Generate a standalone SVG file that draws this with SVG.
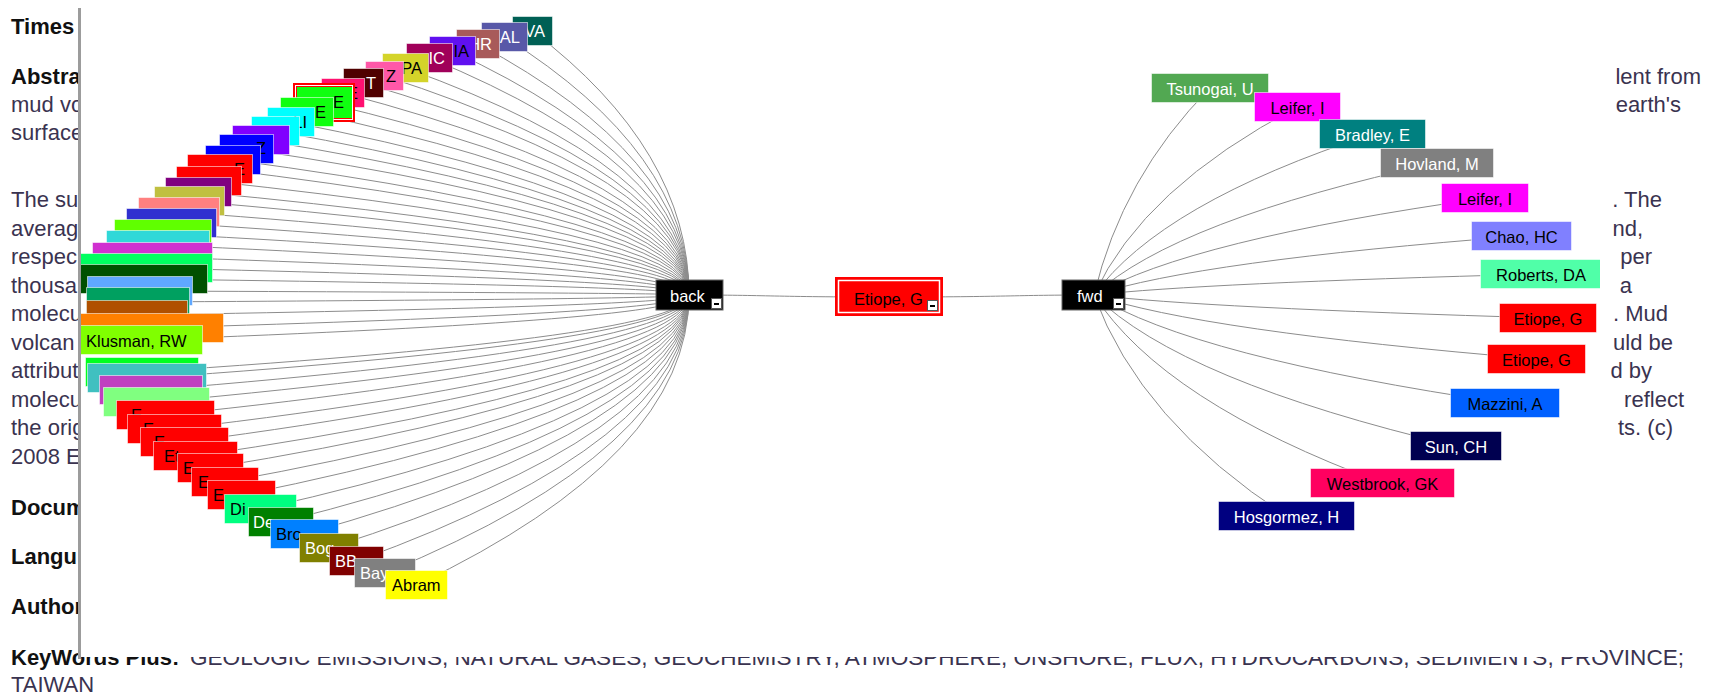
<svg xmlns="http://www.w3.org/2000/svg" width="1715" height="695" viewBox="0 0 1715 695">
<style>
.pg{font-family:"Liberation Sans",Arial,sans-serif;font-size:22px;fill:#3a3350}
.pb{font-weight:bold;fill:#111}
.lb{font-family:"Liberation Sans",Arial,sans-serif;font-size:16.5px}
.w{fill:#fff}.k{fill:#000}
.bx{stroke:#fff;stroke-opacity:.55;stroke-width:1}
.cn{fill:none;stroke:#8c8c8c;stroke-width:1}
.ic{fill:#fff;stroke:#555;stroke-width:1}
</style>
<defs>
<clipPath id="panel"><rect x="81" y="8" width="1519" height="649"/></clipPath>
</defs>
<rect width="1715" height="695" fill="#fff"/>
<g id="page">
<text class="pg pb" x="11" y="34">Times</text>
<text class="pg pb" x="11" y="84">Abstra</text>
<text class="pg" x="11" y="112">mud vo</text>
<text class="pg" x="11" y="140">surface</text>
<text class="pg" x="11" y="207">The su</text>
<text class="pg" x="11" y="236">averag</text>
<text class="pg" x="11" y="264">respec</text>
<text class="pg" x="11" y="293">thousa</text>
<text class="pg" x="11" y="321">molecu</text>
<text class="pg" x="11" y="350">volcan</text>
<text class="pg" x="11" y="378">attribut</text>
<text class="pg" x="11" y="407">molecu</text>
<text class="pg" x="11" y="435">the orig</text>
<text class="pg" x="11" y="464">2008 E</text>
<text class="pg pb" x="11" y="515">Docum</text>
<text class="pg pb" x="11" y="564">Langu</text>
<text class="pg pb" x="11" y="614">Author</text>
<text class="pg pb" x="11" y="665">KeyWords Plus:</text>
<text class="pg" x="190" y="665" textLength="1494" lengthAdjust="spacingAndGlyphs">GEOLOGIC EMISSIONS, NATURAL GASES, GEOCHEMISTRY, ATMOSPHERE, ONSHORE, FLUX, HYDROCARBONS, SEDIMENTS, PROVINCE;</text>
<text class="pg" x="11" y="692">TAIWAN</text>
<g text-anchor="end">
<text class="pg" x="1701" y="84">lent from</text>
<text class="pg" x="1681" y="112">earth's</text>
<text class="pg" x="1662" y="207">. The</text>
<text class="pg" x="1643" y="236">nd,</text>
<text class="pg" x="1652" y="264">per</text>
<text class="pg" x="1632" y="293">a</text>
<text class="pg" x="1668" y="321">. Mud</text>
<text class="pg" x="1673" y="350">uld be</text>
<text class="pg" x="1652" y="378">d by</text>
<text class="pg" x="1684" y="407">reflect</text>
<text class="pg" x="1673" y="435">ts. (c)</text>
</g>
</g>
<rect x="81" y="8" width="1519" height="649" fill="#fff"/>
<rect x="78" y="8" width="3" height="651" fill="#9c9c9c"/>
<g clip-path="url(#panel)">
<g id="connectors" class="cn">
<path d="M689,295Q689,150 532.5,31"/>
<path d="M689,295Q689,153 504.5,37"/>
<path d="M689,295Q689,157 478,44"/>
<path d="M689,295Q689,161 452.5,51"/>
<path d="M689,295Q689,165 429.5,58"/>
<path d="M689,295Q689,170 405.5,68"/>
<path d="M689,295Q689,174 384.5,76"/>
<path d="M689,295Q689,178 363.5,83"/>
<path d="M689,295Q689,184 343,93"/>
<path d="M689,295Q689,189 324,102.5"/>
<path d="M689,295Q689,194 307,112"/>
<path d="M689,295Q689,200 291,122"/>
<path d="M689,295Q689,205 275.5,131"/>
<path d="M689,295Q689,210 261,140"/>
<path d="M689,295Q689,215 246.5,149"/>
<path d="M689,295Q689,221 233,160"/>
<path d="M689,295Q689,226 220,169"/>
<path d="M689,295Q689,232 209,181"/>
<path d="M689,295Q689,238 198.5,192"/>
<path d="M689,295Q689,243 189.5,201"/>
<path d="M689,295Q689,249 179,212"/>
<path d="M689,295Q689,255 171.5,223"/>
<path d="M689,295Q689,261 163,234"/>
<path d="M689,295Q689,268 158,245"/>
<path d="M689,295Q689,274 152.5,257"/>
<path d="M689,295Q689,280 144.5,268"/>
<path d="M689,295Q689,286 142,279"/>
<path d="M689,295Q689,293 140,291"/>
<path d="M689,295Q689,299 138,302"/>
<path d="M689,295Q689,306 137,315"/>
<path d="M689,295Q689,313 150,328"/>
<path d="M689,295Q689,320 139.5,340"/>
<path d="M689,295Q689,337 142,372"/>
<path d="M689,295Q689,341 147,378"/>
<path d="M689,295Q689,347 151,390"/>
<path d="M689,295Q689,354 156.5,402"/>
<path d="M689,295Q689,361 165.5,415"/>
<path d="M689,295Q689,369 174.5,429"/>
<path d="M689,295Q689,376 184.5,442"/>
<path d="M689,295Q689,384 195.5,456"/>
<path d="M689,295Q689,390 210.5,468"/>
<path d="M689,295Q689,398 225,482"/>
<path d="M689,295Q689,405 241.5,495"/>
<path d="M689,295Q689,413 260.5,509"/>
<path d="M689,295Q689,420 281,522"/>
<path d="M689,295Q689,426 304.5,534"/>
<path d="M689,295Q689,434 329,548"/>
<path d="M689,295Q689,441 356.5,561"/>
<path d="M689,295Q689,448 385,573"/>
<path d="M689,295Q689,455 416.5,585"/>
<path d="M689,295C770,295 770,297 889,297"/>
<path d="M889,297C1010,297 1010,295 1094,295"/>
<path d="M1094,295Q1122,177 1210,88"/>
<path d="M1094,295Q1143,188 1297.5,107"/>
<path d="M1094,295Q1161,203 1372.5,134"/>
<path d="M1094,295Q1176,220 1437,163"/>
<path d="M1094,295Q1188,240 1485,198"/>
<path d="M1094,295Q1197,261 1521.5,236"/>
<path d="M1094,295Q1201,283 1541,274"/>
<path d="M1094,295Q1203,308 1548,318"/>
<path d="M1094,295Q1200,331 1536.5,359"/>
<path d="M1094,295Q1193,357 1505,403"/>
<path d="M1094,295Q1181,381 1456,446"/>
<path d="M1094,295Q1163,402 1382.5,483"/>
<path d="M1094,295Q1140,421 1286.5,516"/>
</g>
<g id="nodes" class="lb">
<g id="L01"><svg x="512" y="16" width="41" height="30"><rect class="bx" x=".5" y=".5" width="40" height="29" fill="#006055"/><text class="w" x="33" y="21" text-anchor="end">VA</text></svg></g>
<g id="L02"><svg x="481" y="22" width="47" height="30"><rect class="bx" x=".5" y=".5" width="46" height="29" fill="#5858a8"/><text class="w" x="39" y="21" text-anchor="end">AL</text></svg></g>
<g id="L03"><svg x="456" y="29" width="44" height="30"><rect class="bx" x=".5" y=".5" width="43" height="29" fill="#a85a5a"/><text class="w" x="36" y="21" text-anchor="end">HR</text></svg></g>
<g id="L04"><svg x="429" y="36" width="47" height="30"><rect class="bx" x=".5" y=".5" width="46" height="29" fill="#6010f0"/><text class="k" x="40" y="21" text-anchor="end">IA</text></svg></g>
<g id="L05"><svg x="406" y="43" width="47" height="30"><rect class="bx" x=".5" y=".5" width="46" height="29" fill="#a0005a"/><text class="w" x="39" y="21" text-anchor="end">IC</text></svg></g>
<g id="L06"><svg x="382" y="53" width="47" height="30"><rect class="bx" x=".5" y=".5" width="46" height="29" fill="#d4d42a"/><text class="k" x="40" y="21" text-anchor="end">PA</text></svg></g>
<g id="L07"><svg x="365" y="61" width="39" height="30"><rect class="bx" x=".5" y=".5" width="38" height="29" fill="#ff58a8"/><text class="k" x="31" y="21" text-anchor="end">Z</text></svg></g>
<g id="L08"><svg x="343" y="68" width="41" height="30"><rect class="bx" x=".5" y=".5" width="40" height="29" fill="#500000"/><text class="w" x="33" y="21" text-anchor="end">T</text></svg></g>
<g id="L09"><svg x="321" y="78" width="44" height="30"><rect class="bx" x=".5" y=".5" width="43" height="29" fill="#ff1070"/><text class="k" x="37" y="21" text-anchor="end">E</text></svg></g>
<g id="L10"><rect x="293" y="83" width="62" height="39" fill="#ff0000"/><rect x="295.5" y="85.5" width="57" height="34" fill="none" stroke="#fff" stroke-width="1"/><rect x="297" y="87" width="55" height="31" fill="#10ff10"/><text class="k" x="344" y="108" text-anchor="end">E</text></g>
<g id="L11"><svg x="280" y="97" width="54" height="30"><rect class="bx" x=".5" y=".5" width="53" height="29" fill="#10ff10"/><text class="k" x="46" y="21" text-anchor="end">E</text></svg></g>
<g id="L12"><svg x="267" y="107" width="48" height="30"><rect class="bx" x=".5" y=".5" width="47" height="29" fill="#00ffff"/><text class="k" x="40" y="21" text-anchor="end">LI</text></svg></g>
<g id="L13"><rect class="bx" x="251.5" y="116.5" width="48" height="29" fill="#00ffff"/></g>
<g id="L14"><rect class="bx" x="232.5" y="125.5" width="57" height="29" fill="#8000ff"/></g>
<g id="L15"><svg x="219" y="134" width="55" height="30"><rect class="bx" x=".5" y=".5" width="54" height="29" fill="#0000ff"/><text class="k" x="47" y="20" text-anchor="end">Z</text></svg></g>
<g id="L16"><rect class="bx" x="205.5" y="145.5" width="55" height="29" fill="#0000ff"/></g>
<g id="L17"><svg x="187" y="154" width="66" height="30"><rect class="bx" x=".5" y=".5" width="65" height="29" fill="#ff0000"/><text class="k" x="58" y="21" text-anchor="end">E</text></svg></g>
<g id="L18"><rect class="bx" x="176.5" y="166.5" width="65" height="29" fill="#ff0000"/></g>
<g id="L19"><rect class="bx" x="165.5" y="177.5" width="66" height="29" fill="#800080"/></g>
<g id="L20"><rect class="bx" x="154.5" y="186.5" width="70" height="29" fill="#c0c040"/></g>
<g id="L21"><rect class="bx" x="138.5" y="197.5" width="81" height="29" fill="#ff8080"/></g>
<g id="L22"><rect class="bx" x="126.5" y="208.5" width="90" height="29" fill="#3030d0"/></g>
<g id="L23"><rect class="bx" x="114.5" y="219.5" width="97" height="29" fill="#60ff00"/></g>
<g id="L24"><rect class="bx" x="106.5" y="230.5" width="103" height="29" fill="#30d8d8"/></g>
<g id="L25"><rect class="bx" x="92.5" y="242.5" width="120" height="29" fill="#d030d0"/></g>
<g id="L26"><rect class="bx" x="76.5" y="253.5" width="136" height="29" fill="#00ff60"/></g>
<g id="L27"><rect class="bx" x="76.5" y="264.5" width="131" height="29" fill="#005000"/></g>
<g id="L28"><rect class="bx" x="87.5" y="276.5" width="105" height="29" fill="#60a8ff"/></g>
<g id="L29"><rect class="bx" x="86.5" y="287.5" width="103" height="29" fill="#00a060"/></g>
<g id="L30"><rect class="bx" x="86.5" y="300.5" width="101" height="29" fill="#b05000"/></g>
<g id="L31"><rect class="bx" x="76.5" y="313.5" width="147" height="29" fill="#ff8000"/></g>
<g id="L32"><svg x="76" y="325" width="127" height="30"><rect class="bx" x=".5" y=".5" width="126" height="29" fill="#80ff00"/><text class="k" x="10" y="22">Klusman, RW</text></svg></g>
<g id="L33"><rect class="bx" x="85.5" y="357.5" width="113" height="29" fill="#00ff20"/></g>
<g id="L34"><rect class="bx" x="87.5" y="363.5" width="119" height="29" fill="#40c0c0"/></g>
<g id="L35"><rect class="bx" x="99.5" y="375.5" width="103" height="29" fill="#c040c0"/></g>
<g id="L36"><rect class="bx" x="103.5" y="387.5" width="106" height="29" fill="#80ff80"/></g>
<g id="L37"><svg x="116" y="400" width="99" height="30"><rect class="bx" x=".5" y=".5" width="98" height="29" fill="#ff0000"/><text class="k" x="15" y="21">E</text></svg></g>
<g id="L38"><svg x="127" y="414" width="95" height="30"><rect class="bx" x=".5" y=".5" width="94" height="29" fill="#ff0000"/><text class="k" x="16" y="21">E</text></svg></g>
<g id="L39"><svg x="140" y="427" width="89" height="30"><rect class="bx" x=".5" y=".5" width="88" height="29" fill="#ff0000"/><text class="k" x="14" y="21">E</text></svg></g>
<g id="L40"><svg x="153" y="441" width="85" height="30"><rect class="bx" x=".5" y=".5" width="84" height="29" fill="#ff0000"/><text class="k" x="11" y="21">Et</text></svg></g>
<g id="L41"><svg x="177" y="453" width="67" height="30"><rect class="bx" x=".5" y=".5" width="66" height="29" fill="#ff0000"/><text class="k" x="6" y="21">E</text></svg></g>
<g id="L42"><svg x="191" y="467" width="68" height="30"><rect class="bx" x=".5" y=".5" width="67" height="29" fill="#ff0000"/><text class="k" x="7" y="21">E</text></svg></g>
<g id="L43"><svg x="207" y="480" width="69" height="30"><rect class="bx" x=".5" y=".5" width="68" height="29" fill="#ff0000"/><text class="k" x="6" y="21">E</text></svg></g>
<g id="L44"><svg x="224" y="494" width="73" height="30"><rect class="bx" x=".5" y=".5" width="72" height="29" fill="#00ff80"/><text class="k" x="6" y="21">Di</text></svg></g>
<g id="L45"><svg x="248" y="507" width="66" height="30"><rect class="bx" x=".5" y=".5" width="65" height="29" fill="#008000"/><text class="w" x="5" y="21">De</text></svg></g>
<g id="L46"><svg x="270" y="519" width="69" height="30"><rect class="bx" x=".5" y=".5" width="68" height="29" fill="#0080ff"/><text class="k" x="6" y="21">Bro</text></svg></g>
<g id="L47"><svg x="299" y="533" width="60" height="30"><rect class="bx" x=".5" y=".5" width="59" height="29" fill="#808000"/><text class="w" x="6" y="21">Bog</text></svg></g>
<g id="L48"><svg x="329" y="546" width="55" height="30"><rect class="bx" x=".5" y=".5" width="54" height="29" fill="#800000"/><text class="w" x="6" y="21">BB</text></svg></g>
<g id="L49"><svg x="354" y="558" width="62" height="30"><rect class="bx" x=".5" y=".5" width="61" height="29" fill="#808080"/><text class="w" x="6" y="21">Bay</text></svg></g>
<g id="L50"><svg x="385" y="570" width="63" height="30"><rect class="bx" x=".5" y=".5" width="62" height="29" fill="#ffff00"/><text class="k" x="7" y="21">Abram</text></svg></g>

<g id="n-back"><rect x="656" y="280" width="67" height="30" fill="#000" stroke="#666" stroke-width="1"/><text class="w" x="670" y="302">back</text><rect class="ic" x="711.5" y="298.5" width="10" height="10"/><rect x="714" y="303" width="5" height="2" fill="#000"/></g>
<g id="n-etiope"><rect x="835" y="277" width="108" height="39" fill="#ff0000"/><rect x="838.5" y="280.5" width="101" height="32" fill="none" stroke="#fff" stroke-width="1.5"/><text class="k" x="854" y="305">Etiope, G</text><rect class="ic" x="927.5" y="300.5" width="10" height="10"/><rect x="930" y="305" width="5" height="2" fill="#000"/></g>
<g id="n-fwd"><rect x="1062" y="280" width="63" height="30" fill="#000" stroke="#666" stroke-width="1"/><text class="w" x="1077" y="302">fwd</text><rect class="ic" x="1113.5" y="298.5" width="10" height="10"/><rect x="1116" y="303" width="5" height="2" fill="#000"/></g>

<g text-anchor="middle">
<g id="R01"><rect class="bx" x="1151.5" y="73.5" width="117" height="29" fill="#52a852"/><text class="w" x="1210" y="95">Tsunogai, U</text></g>
<g id="R02"><rect class="bx" x="1254.5" y="92.5" width="86" height="29" fill="#ff00ff"/><text class="k" x="1297.5" y="114">Leifer, I</text></g>
<g id="R03"><rect class="bx" x="1319.5" y="119.5" width="106" height="29" fill="#008080"/><text class="w" x="1372.5" y="141">Bradley, E</text></g>
<g id="R04"><rect class="bx" x="1380.5" y="148.5" width="113" height="29" fill="#808080"/><text class="w" x="1437" y="170">Hovland, M</text></g>
<g id="R05"><rect class="bx" x="1441.5" y="183.5" width="87" height="29" fill="#ff00ff"/><text class="k" x="1485" y="205">Leifer, I</text></g>
<g id="R06"><rect class="bx" x="1471.5" y="221.5" width="100" height="29" fill="#8080ff"/><text class="k" x="1521.5" y="243">Chao, HC</text></g>
<g id="R07"><rect class="bx" x="1480.5" y="259.5" width="121" height="29" fill="#50ffa8"/><text class="k" x="1541" y="281">Roberts, DA</text></g>
<g id="R08"><rect class="bx" x="1499.5" y="303.5" width="97" height="29" fill="#ff0000"/><text class="k" x="1548" y="325">Etiope, G</text></g>
<g id="R09"><rect class="bx" x="1487.5" y="344.5" width="98" height="29" fill="#ff0000"/><text class="k" x="1536.5" y="366">Etiope, G</text></g>
<g id="R10"><rect class="bx" x="1450.5" y="388.5" width="109" height="29" fill="#0060ff"/><text class="k" x="1505" y="410">Mazzini, A</text></g>
<g id="R11"><rect class="bx" x="1410.5" y="431.5" width="91" height="29" fill="#000050"/><text class="w" x="1456" y="453">Sun, CH</text></g>
<g id="R12"><rect class="bx" x="1310.5" y="468.5" width="144" height="29" fill="#ff0060"/><text class="k" x="1382.5" y="490">Westbrook, GK</text></g>
<g id="R13"><rect class="bx" x="1218.5" y="501.5" width="136" height="29" fill="#000080"/><text class="w" x="1286.5" y="523">Hosgormez, H</text></g>
</g>
</g>
</g>
</svg>
